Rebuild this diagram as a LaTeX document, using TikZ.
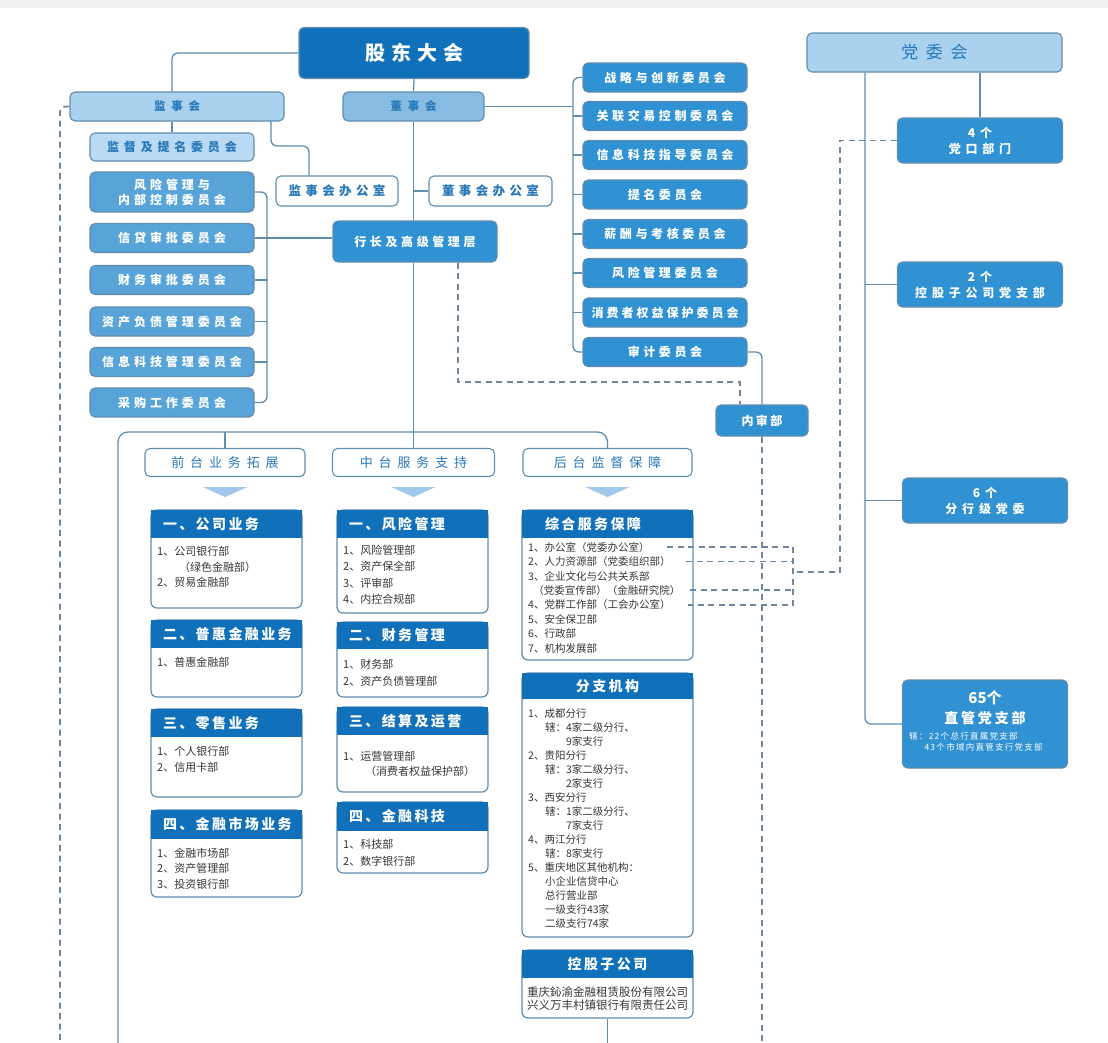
\documentclass[tikz,border=0pt]{standalone}
\usepackage{fontspec}
\setmainfont{Noto Sans CJK SC}
\newcommand\spc[1]{\addfontfeatures{LetterSpace=#1}}
\definecolor{linec}{RGB}{96,140,174}
\definecolor{dashc}{RGB}{110,135,160}
\definecolor{darkblue}{RGB}{16,113,186}
\definecolor{midblue}{RGB}{48,146,210}
\definecolor{leftblue}{RGB}{88,164,216}
\definecolor{lightblue}{RGB}{170,210,238}
\definecolor{jdblue}{RGB}{185,218,242}
\definecolor{dsblue}{RGB}{135,188,226}
\definecolor{textblue}{RGB}{40,120,185}
\definecolor{bodyc}{RGB}{55,55,55}
\definecolor{tric}{RGB}{160,200,235}
\definecolor{topgray}{RGB}{240,240,240}
\tikzset{
  box/.style={draw=linec, line width=1.1pt, rounded corners=5pt, inner sep=0pt, align=center},
  topbox/.style={box, fill=darkblue, text=white, font=\spc{30}\bfseries\fontsize{20}{22}\selectfont},
  lightbox/.style={box, fill=lightblue, text=textblue},
  combox/.style={box, fill=midblue, text=white, minimum width=164, minimum height=29, font=\spc{30}\bfseries\fontsize{12}{15}\selectfont},
  leftbox/.style={combox, fill=leftblue, font=\spc{33}\bfseries\fontsize{12}{15}\selectfont},
  officebox/.style={box, fill=white, text=textblue, minimum height=30, font=\spc{35}\bfseries\fontsize{12.5}{14}\selectfont},
  partybox/.style={box, fill=midblue, text=white, minimum width=165, font=\spc{40}\bfseries\fontsize{12}{16}\selectfont},
  tabbox/.style={box, fill=white, text=textblue, minimum height=28, font=\spc{45}\fontsize{13}{15}\selectfont},
  conn/.style={draw=linec, line width=1.3pt, rounded corners=6pt},
  dashconn/.style={draw=dashc, line width=1.8pt, dash pattern=on 6pt off 4.5pt},
  sechead/.style={fill=darkblue, text=white, inner sep=0pt, font=\spc{17}\bfseries\fontsize{14}{16}\selectfont},
  secbody/.style={draw=linec, line width=1.2pt, fill=white, rounded corners=6pt, inner sep=0pt},
  bodytext/.style={text=bodyc, align=left, inner sep=0pt, anchor=north west, font=\fontsize{11}{15.5}\selectfont},
  tri/.style={fill=tric}
}
% section: name, cx, width, top, head bottom, bottom, head options, title
\newcommand\secbox[8]{%
  \pgfmathsetmacro\sbh{#6-#4}%
  \pgfmathsetmacro\sbm{(#4+#6)/2}%
  \pgfmathsetmacro\shh{#5-#4}%
  \pgfmathsetmacro\shm{(#4+#5)/2}%
  \node[secbody, minimum width=#3, minimum height=\sbh] (#1) at (#2,\sbm) {};
  \node[sechead, minimum width=#3, minimum height=\shh, #7] (#1h) at (#2,\shm) {#8};
}
\begin{document}
\begin{tikzpicture}[x=1pt,y=-1pt]
\useasboundingbox (0,0) rectangle (1108,1042);
\fill[topgray] (0,0) rectangle (1108,8);

% governance
\node[topbox, minimum width=230, minimum height=51] (gdh) at (414,53) {股东大会};
\node[lightbox, minimum width=214, minimum height=29, font=\spc{50}\bfseries\fontsize{11.5}{13}\selectfont] (jsh) at (177,106.5) {监事会};
\node[lightbox, fill=dsblue, minimum width=141, minimum height=29, font=\spc{50}\bfseries\fontsize{11.5}{13}\selectfont] (dsh) at (413.5,106.5) {董事会};
\node[lightbox, fill=jdblue, minimum width=164, minimum height=28, font=\spc{40}\bfseries\fontsize{12}{14}\selectfont] (jdtm) at (172,147) {监督及提名委员会};

\node[leftbox, minimum height=40] (fxgl) at (172,192) {风险管理与\\内部控制委员会};
\node[leftbox] (xdsp) at (172,238) {信贷审批委员会};
\node[leftbox] (cwsp) at (172,280) {财务审批委员会};
\node[leftbox] (zcfz) at (172,321.5) {资产负债管理委员会};
\node[leftbox] (xxkj) at (172,362) {信息科技管理委员会};
\node[leftbox] (cggz) at (172,402.5) {采购工作委员会};

\node[officebox, minimum width=122] (jsbgs) at (337,191) {监事会办公室};
\node[officebox, minimum width=123] (dsbgs) at (490.5,191) {董事会办公室};
\node[combox, minimum height=41] (hz) at (415,241.5) {行长及高级管理层};

\node[combox] (zl) at (665,77.5) {战略与创新委员会};
\node[combox] (gljy) at (665,116) {关联交易控制委员会};
\node[combox] (xxzd) at (665,155) {信息科技指导委员会};
\node[combox] (tmwy) at (665,194.5) {提名委员会};
\node[combox] (xckh) at (665,234) {薪酬与考核委员会};
\node[combox] (fxwy) at (665,273) {风险管理委员会};
\node[combox, font=\spc{25}\bfseries\fontsize{12}{15}\selectfont] (xfwy) at (665,312.5) {消费者权益保护委员会};
\node[combox] (sjwy) at (665,352) {审计委员会};
\node[combox, minimum width=92, minimum height=31, font=\spc{20}\bfseries\fontsize{12}{14}\selectfont] (nsb) at (762,420.5) {内审部};

% party
\node[lightbox, minimum width=255, minimum height=39, font=\spc{45}\fontsize{17}{19}\selectfont] (dwh) at (934.5,52.5) {党委会};
\node[partybox, minimum height=45] (dkbm) at (980,140.5) {4个\\党口部门};
\node[partybox, minimum height=45] (zgsdz) at (980,284.5) {2个\\控股子公司党支部};
\node[partybox, minimum height=45] (fhdw) at (985,500.5) {6个\\分行级党委};
\node[partybox, minimum height=88] (zgdz) at (985,724) {};
\node[text=white, inner sep=0pt, font=\bfseries\fontsize{15}{17}\selectfont] (zgnum) at (985,698) {65个};
\node[text=white, inner sep=0pt, font=\spc{20}\bfseries\fontsize{14}{16}\selectfont] (zgname) at (985,718) {直管党支部};
\node[text=white, inner sep=0pt, align=left, anchor=north west, font=\spc{15}\fontsize{8.5}{11}\selectfont] (zgnote) at (909,732) {辖：22个总行直属党支部\\\hspace*{1.8em}43个市域内直管支行党支部};

% front / middle / back office
\node[tabbox, minimum width=160] (qt) at (225,462.5) {前台业务拓展};
\node[tabbox, minimum width=162] (zt) at (413.5,462.5) {中台服务支持};
\node[tabbox, minimum width=169] (ht) at (607.5,462.5) {后台监督保障};
\foreach \t in {qt,zt,ht}
  \fill[tri] ([xshift=-22pt,yshift=-10pt]\t.south) -- ([xshift=22pt,yshift=-10pt]\t.south) -- ([yshift=-20pt]\t.south) -- cycle;

\secbox{s11}{226.5}{151}{510}{538}{608}{text width=127pt,align=left}{一、公司业务}
\secbox{s12}{226.5}{151}{620}{648}{697}{text width=127pt,align=left}{二、普惠金融业务}
\secbox{s13}{226.5}{151}{709}{737}{797}{text width=127pt,align=left}{三、零售业务}
\secbox{s14}{226.5}{151}{810}{839}{897}{text width=127pt,align=left}{四、金融市场业务}
\secbox{s21}{412.5}{151}{510}{538}{613}{text width=127pt,align=left}{一、风险管理}
\secbox{s22}{412.5}{151}{622}{649}{697}{text width=127pt,align=left}{二、财务管理}
\secbox{s23}{412.5}{151}{707}{735}{792}{text width=127pt,align=left}{三、结算及运营}
\secbox{s24}{412.5}{151}{802}{831}{873}{text width=127pt,align=left}{四、金融科技}
\secbox{s31}{607.5}{171}{510}{538}{660}{text width=125pt,align=left}{综合服务保障}
\secbox{s32}{607.5}{171}{673}{699}{937}{align=center}{分支机构}
\secbox{s33}{607.5}{171}{950}{978}{1018}{align=center}{控股子公司}

\node[bodytext] (s11t) at (157,546.5) {1、公司银行部\\\hspace*{2em}（绿色金融部）\\2、贸易金融部};
\node[bodytext] (s12t) at (157,656.5) {1、普惠金融部};
\node[bodytext] (s13t) at (157,746.5) {1、个人银行部\\2、信用卡部};
\node[bodytext] (s14t) at (157,847.5) {1、金融市场部\\2、资产管理部\\3、投资银行部};
\node[bodytext, font=\fontsize{11}{16.5}\selectfont] (s21t) at (343,544.5) {1、风险管理部\\2、资产保全部\\3、评审部\\4、内控合规部};
\node[bodytext, font=\fontsize{11}{17}\selectfont] (s22t) at (343,659.5) {1、财务部\\2、资产负债管理部};
\node[bodytext, font=\fontsize{11}{15}\selectfont] (s23t) at (343,751.5) {1、运营管理部\\\hspace*{2em}（消费者权益保护部）};
\node[bodytext, font=\fontsize{11}{17}\selectfont] (s24t) at (343,839.5) {1、科技部\\2、数字银行部};
\node[bodytext, font=\fontsize{10.5}{14.4}\selectfont] (s31t) at (528,542) {1、办公室（党委办公室）\\2、人力资源部（党委组织部）\\3、企业文化与公共关系部\\\hspace*{0.5em}（党委宣传部）（金融研究院）\\4、党群工作部（工会办公室）\\5、安全保卫部\\6、行政部\\7、机构发展部};
\node[bodytext, font=\fontsize{10.5}{14}\selectfont] (s32t) at (528,708) {1、成都分行\\\hspace*{1.6em}辖：4家二级分行、\\\hspace*{3.6em}9家支行\\2、贵阳分行\\\hspace*{1.6em}辖：3家二级分行、\\\hspace*{3.6em}2家支行\\3、西安分行\\\hspace*{1.6em}辖：1家二级分行、\\\hspace*{3.6em}7家支行\\4、两江分行\\\hspace*{1.6em}辖：8家支行\\5、重庆地区其他机构：\\\hspace*{1.6em}小企业信贷中心\\\hspace*{1.6em}总行营业部\\\hspace*{1.6em}一级支行43家\\\hspace*{1.6em}二级支行74家};
\node[bodytext, anchor=north, align=center, font=\fontsize{11.5}{13}\selectfont] (s33t) at (607.5,987) {重庆鈊渝金融租赁股份有限公司\\兴义万丰村镇银行有限责任公司};

% solid connectors
\draw[conn] (gdh.west) -| (jdtm.north |- jsh.north);
\draw[conn] (jsh.south -| jdtm.north) -- (jdtm.north);
\draw[conn] (gdh.south) -- (dsh.north);
\draw[conn] (dsh.south) -- (dsh.south |- hz.north);
\draw[conn] (dsh.south |- dsbgs.west) -- (dsbgs.west);
\coordinate (jsr) at (271,121);
\coordinate (jsk) at (309,146);
\draw[conn] (jsr) |- (jsk) -- (jsk |- jsbgs.north);

\coordinate (lbr) at (267,0);
\draw[conn] (fxgl.east) -- (fxgl.east -| lbr) -- (cggz.east -| lbr) -- (cggz.east);
\foreach \c in {cwsp,zcfz,xxkj} \draw[conn] (\c.east) -- (\c.east -| lbr);
\draw[conn] (xdsp.east) -- (xdsp.east -| hz.west);

\coordinate (rbr) at (573,0);
\draw[conn] (zl.west) -- (zl.west -| rbr) -- (sjwy.west -| rbr) -- (sjwy.west);
\draw[conn] (dsh.east) -- (dsh.east -| rbr);
\foreach \c in {gljy,xxzd,tmwy,xckh,fxwy,xfwy} \draw[conn] (\c.west -| rbr) -- (\c.west);
\draw[conn] (sjwy.east) -| (nsb.north);

\coordinate (ptr) at (865,0);
\draw[conn] (dwh.south -| ptr) |- (zgdz.west);
\draw[conn] (ptr |- zgsdz.west) -- (zgsdz.west);
\draw[conn] (ptr |- fhdw.west) -- (fhdw.west);
\draw[conn] (dkbm.north |- dwh.south) -- (dkbm.north);

\coordinate (bot) at (0,1046);
\coordinate (ftl) at (118,432);
\coordinate (ftr) at (607.5,432);
\draw[conn, rounded corners=10pt] (ftl |- bot) -- (ftl) -- (ftr) -- (ht.north);
\draw[conn] (qt.north |- ftl) -- (qt.north);
\draw[conn] (hz.south -| dsh.south) -- (zt.north);
\draw[conn] (s33.south) -- (s33.south |- bot);

% dashed connectors
\coordinate (hzd) at (458,382);
\coordinate (nsd) at (740,382);
\draw[dashconn] (hzd |- hz.south) -- (hzd) -- (nsd) -- (nsd |- nsb.north);
\draw[dashconn] (nsb.south) -- (nsb.south |- bot);
\coordinate (ldl) at (60,1046);
\draw[dashconn, rounded corners=6pt] (jsh.west) -| (ldl);

\coordinate (dqv) at (840,572);
\coordinate (brk) at (793,572);
\draw[dashconn] (dkbm.west) -| (dqv) -- (brk);
\coordinate (r1) at (667,547);
\coordinate (r2) at (686,561.4);
\coordinate (r3) at (690,590.2);
\coordinate (r4) at (688,604.6);
\draw[dashconn] (r1) -- (r1 -| brk) -- (r4 -| brk) -- (r4);
\draw[dashconn] (r2) -- (r2 -| brk);
\draw[dashconn] (r3) -- (r3 -| brk);
\end{tikzpicture}
\end{document}
